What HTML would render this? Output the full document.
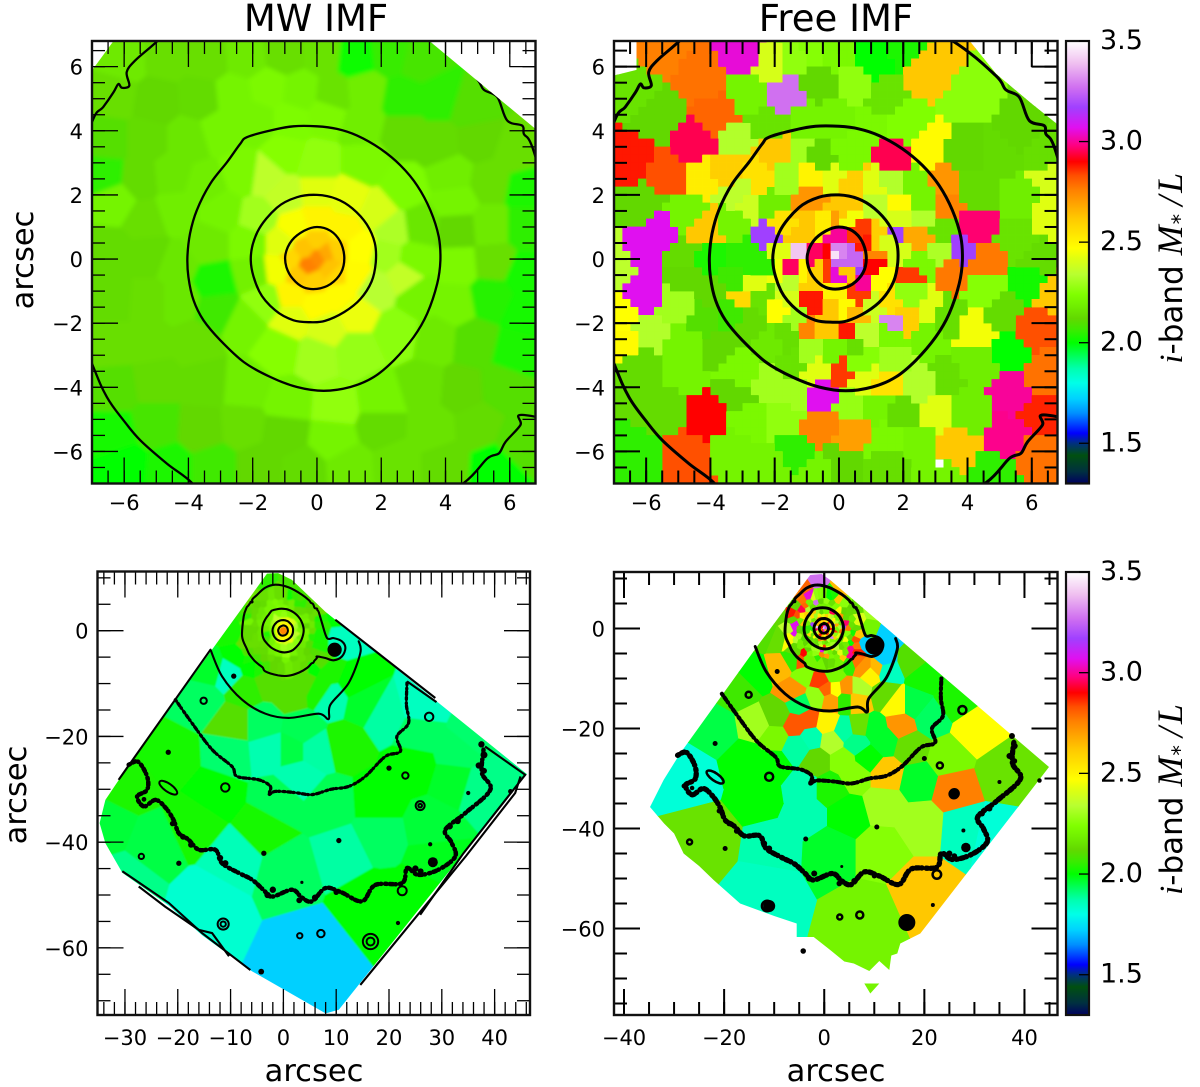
<!DOCTYPE html>
<html lang="en">
<head>
<meta charset="utf-8">
<title>MW IMF vs Free IMF stellar mass-to-light maps</title>
<style>
html,body{margin:0;padding:0;background:#fff;}
#figure{display:block;width:1200px;height:1087px;}
text{font-family:"DejaVu Sans","Liberation Sans",sans-serif;fill:#000;}
.math{font-family:"Liberation Serif","DejaVu Serif",serif;font-style:italic;}
</style>
</head>
<body>
<svg id="figure" xmlns="http://www.w3.org/2000/svg" width="1200" height="1087" viewBox="0 0 1200 1087">
  <defs id="defs"></defs>
  <rect x="0" y="0" width="1200" height="1087" fill="#fff"/>
</svg>
<script>
// ---------- colour scale ----------
const cmapValues = [1.30,1.36,1.44,1.50,1.55,1.65,1.72,1.80,1.87,1.93,2.00,2.06,2.12,2.18,2.24,2.34,2.42,2.47,2.62,2.76,2.83,2.90,2.98,3.07,3.17,3.27,3.39,3.50];
const cmapColors = ['#000060','#003040','#005010','#003080','#0000ff','#0090ff','#00d0ff','#00ffe8','#00ffb0','#00ff60','#00ff00','#38ec00','#62d800','#70ee00','#80ff00','#b8ff30','#e0ff10','#ffff00','#ffc800','#ff8000','#ff5000','#ff0000','#ff0080','#e010f0','#a040ff','#d070f0','#f0c0f0','#ffffff'];
const colorbarTicks = [1.5,2.0,2.5,3.0,3.5];
const colorbarTickLabels = ['1.5','2.0','2.5','3.0','3.5'];

// ---------- binned M*/L maps: [x arcsec, y arcsec, M*/L] ----------
const mwCentral = [
[0,0,2.74],[-.3,-.2,2.76],[.3,.2,2.68],[.4,-.3,2.63],[-.4,.3,2.63],[0,.6,2.6],[.6,.3,2.6],[.6,-.5,2.58],[-.6,-.5,2.62],[-.1,-.7,2.6],[-.8,0,2.58],
[0,1.2,2.5],[.8,.9,2.5],[1.3,.3,2.47],[1.2,-.5,2.48],[.7,-1.1,2.48],[0,-1.4,2.48],[-.8,-1.1,2.5],[-1.2,-.3,2.45],[-1.1,.5,2.42],[-.7,1,2.46],
[0,2.1,2.42],[1,1.9,2.43],[1.9,1.5,2.4],[2.4,.9,2.32],[2.2,.1,2.3],[2.7,-.5,2.36],[1.8,-.9,2.34],[1.2,-1.7,2.44],[.3,-2.2,2.4],[-.8,-1.9,2.42],[-1.6,-1.3,2.27],[-2,-.4,2.19],[-2.1,.5,2.22],[-1.8,1.3,2.3],[-1,2,2.36],[-1.6,2.6,2.35],
[0,3,2.27],[1.5,3,2.22],[2.7,2.2,2.23],[3.2,1,2.16],[3,0,2.22],[3.2,-1.2,2.2],[2.5,-2.3,2.26],[1.2,-2.9,2.28],[0,-3,2.3],[-1.2,-2.8,2.25],[-2.3,-2,2.2],[-3.2,-.7,2.03],[-3.4,.5,2.17],[-3,1.5,2.2],[-2.3,2.7,2.22],[-1,3.3,2.25],
[-6,6.2,2.17],[-4.7,6.3,2.14],[-3.4,6.2,2.14],[-2.2,6.3,2.17],[-1,6.4,2.14],[.2,6.4,2.15],[1.2,6.3,2.01],[2.3,6.4,2.06],[3.2,6.2,2.08],
[-6.3,5.1,2.14],[-5,4.9,2.12],[-3.6,5,2.13],[-2.6,5.1,2.2],[-1.5,5.3,2.22],[-.5,5.2,2.2],[.5,5.1,2.15],[1.5,5.2,2.18],[2.7,5,2.05],[3.8,5,2.05],[4.8,4.7,2.1],
[-6.5,3.7,2.1],[-5.3,3.7,2.13],[-4,3.7,2.16],[-3,4,2.2],[-1.9,4.3,2.2],[-.8,4.3,2.23],[.3,4.5,2.22],[1.4,4.2,2.18],[2.7,3.9,2.13],[3.8,3.6,2.13],[5,3.7,2.12],[6.2,3.3,2.14],
[-6.6,2.6,2.05],[-5.5,2.5,2.13],[-4.5,2.6,2.16],[-3.5,2.3,2.18],[4.2,2.6,2.18],[5.4,2.4,2.14],[6.5,2.2,2.03],
[-6.3,1.8,2.2],[-5.3,1.2,2.14],[-4.4,1.5,2.18],[4.3,1.8,2.2],[5.4,1,2.17],[6.5,1,2.05],[4.36,.9,2.12],
[-6.4,.2,2.13],[-5.2,.1,2.13],[-4.4,-.2,2.16],[4.4,-.2,2.22],[5.5,-.1,2.14],[6.5,-.5,2.02],
[-6.4,-1.2,2.13],[-5.2,-1.3,2.14],[-4.3,-1.3,2.16],[-3.1,-1.6,2.07],[4.3,-1.4,2.2],[5.4,-1.2,2.04],[6.5,-1.7,2.02],
[-6.4,-2.7,2.14],[-5.2,-2.6,2.14],[-3.8,-2.6,2.14],[3.7,-2.5,2.17],[4.9,-2.6,2.1],[6.2,-2.9,2.03],
[-6.3,-4,2.1],[-5,-3.8,2.13],[-3.5,-3.9,2.13],[-2.2,-4,2.18],[-.9,-4.5,2.2],[.6,-4.6,2.27],[2,-4.4,2.2],[3.3,-4,2.15],[4.5,-4.1,2.12],[5.8,-4,2.1],
[-6.3,-5.5,2.02],[-5,-5.2,2.08],[-3.6,-5.3,2.12],[-2.3,-5.2,2.14],[-1,-5.4,2.12],[.5,-5.6,2.2],[2,-5.2,2.13],[3.6,-5.3,2.15],[5,-5.2,2.13],[6.3,-5.7,2.1],
[-6,-6.4,2],[-4.6,-6.5,2.03],[-3.2,-6.5,2.07],[-1.8,-6.5,2.12],[-.4,-6.6,2.13],[1,-6.5,2.17],[2.5,-6.4,2.15],[4,-6.4,2.13],[5.5,-6.5,2]
];

const mwWide = [
[2,9,2.08],[-4,9,2.05],[-8,5,2.05],[-9.5,0,2.02],[-8.5,-5,2],[8,6,2.03],[10,3,2],[10.5,-1.7,1.85],[-3,-9.5,2.1],[4,-9.5,2.1],[8.5,-8,2.03],
[4.8,-60.4,1.72],[-14,-51.5,1.83],[19.3,-50.9,2],[11.7,-42,1.88],[.4,-45.2,1.93],[-4,-37.7,2.02],[-9.1,-42.7,1.86],[-24.9,-40.2,1.95],[-29.3,-29.5,2.03],[-21,-23.8,2.02],[-12.9,-30.7,2],[-16.7,-36.4,2.02],
[-15.4,-13,1.93],[-9.4,-17.5,2.1],[-10.3,-23.2,1.92],[-2.5,-22.5,1.87],[1.6,-22.5,1.95],[6,-22.5,1.88],[11.7,-21.3,2.03],[2.9,-27.6,1.87],[-4,-17.5,1.93],[3.5,-18.7,1.94],[19.3,-16.2,1.88],[14.9,-13.7,1.97],[26.2,-14.3,1.85],[25.6,-19.4,1.93],[24.4,-25.7,2],[18,-32,2],[8.6,-32.6,1.94],[-.9,-32,1.94],[33.2,-23.2,1.93],[36.3,-19.4,1.92],[32.6,-28.2,1.97],[37,-29.5,1.9],[43.3,-26.9,1.9],[28.1,-37,1.96],[18,-38.9,1.93],[28.8,-43.3,1.98],[25.6,-49.7,2],[16.8,-50.9,2],
[-10.3,-8,1.85],[1.6,-11.5,2.1],[-7.2,-11,2.05],[7,-11,2.03],[13,-9.9,2],[9.2,-12.5,1.87],[-14,-7,1.97],[-30,-47,1.9],[-33,-37,1.96]
];

const freeCentral = [
[-4.3,5.7,2.78],[-5.5,6.5,2.76],[-3.7,4.4,2.8],[-3,6.4,3.05],[-2.1,6.1,2.4],[-1.4,6.3,2.27],[-.8,6.4,2.25],[-.15,6.4,2.22],[1.1,6.3,2],[2,6.6,2.03],[2.85,5.8,2.62],[4,5.05,2.26],[-1.65,5.1,3.27],[-.6,5.45,2.12],[.45,5.4,2.27],[-2.85,5.15,2.2],[1.4,4.9,2.15],[-5.65,4.5,2.12],[-6.4,5.3,2.15],[-3.3,3.8,2.33],[-4.4,3.7,2.95],[-2.2,4.2,2.15],[-1,4.3,2.2],[0,4.4,2.2],[.9,4.3,2.22],[2.1,4.2,2.24],[3.9,3.3,2.12],[5.65,4,2.12],[6.4,3.2,2.14],[5,3.2,2.13],
[-6.5,3.05,2.88],[-5.4,2.55,2.83],[-4.3,2.55,2.52],[-3.5,2.65,2.6],[-6,1.7,2.12],[-1.9,3.35,2.62],[-1.3,3.3,2.3],[-.57,3.1,2.12],[.35,3.3,2.22],[1.8,3.1,2.95],[2.8,3.4,2.48],[3.3,2.35,2.72],[3.4,1.6,2.75],[4.3,2.15,2.13],[6.5,2.55,2.4],[6.5,1.3,2.42],[5.65,1.9,2.18],
[-5.55,1,3.07],[-6.1,.05,3.07],[-6.1,-1,3.07],[-4.8,.05,2.13],[-4.8,1.4,2.2],[-4.1,.9,2.62],[-2.85,1.7,2.38],[-3.3,1.1,2.2],[-2.2,1.7,2.18],[-2.45,2.45,2.55],[-3.15,2.1,2.35],[-1.6,2.55,2.3],[-.93,2.55,2.5],[-.25,2.45,2.42],[.47,2.35,2.6],[1.1,2.25,2.42],[1.6,2.35,2.33],[2.35,2.35,2.2],[1.9,1.7,2.48],[-.8,2,2.72],[.05,1.6,2.62],[1.2,1.8,2.35],[2.65,1.85,2.2],[2.55,1.2,2.33],[3.2,1,2.15],[4.2,1,2.97],[5.55,.6,2.15],[4.6,-.05,2.77],[3.8,.25,3.17],[3.5,-.45,2.77],[2.5,.7,2.68],[2.25,.7,2.68],[1.9,.7,3.17],[1.9,.25,2.4],[1.9,1.1,2.4],[3,.2,2.32],[2.2,-.55,2.85],[2.55,-.15,2.22],[1.45,.5,2.4],[1.15,.6,2.6],[.55,.8,2.85],[.15,1.1,2.45],[-.05,1.15,2.7],[-.55,1.1,2.52],[-.88,1.1,2.62],[-1.3,.7,2.62],[-1.75,.95,2.55],[-2.15,.7,3.17],[-1.9,.2,2.42],[-1.9,-.4,2.45],[-1.35,.2,3.4],[-1.45,-.3,2.96],[-.88,.17,2.96],[-.36,.17,2.9],[0,.73,3],[.05,.17,3.3],[-.1,0,3.45],[.37,.17,3.25],[-.05,-.15,3.25],[.5,-.05,3.25],[.88,.37,2.88],[1,.17,2.75],[1,-.15,2.9],[-.36,-.4,2.85],[0,-.55,3.05],[.57,-.4,3.17],[.73,-.77,3],[.57,-1.08,2.85],[.2,-.4,2.62],[1.14,-.66,2.47],[-.78,-.45,2.6],[-1.2,-.45,2.5],[-1.5,-.77,2.35],[-.78,-.87,2.6],[-.15,-1.08,2.5],[-.78,-1.29,2.88],[-1.92,-1.5,2.47],[-1.3,-1.7,2.3],[-1.6,-1.18,2.4],[-.25,-1.6,2.62],[.15,-1.6,2.48],[.57,-1.7,2.65],[1.09,-1.5,2.38],[1.6,-1.39,2.55],[1.6,-1.86,3.3],[2.18,-1.8,2.6],[2.8,-1.6,2.42],[2.2,-1.18,2.27],[-.93,-2.33,2.75],[-.36,-2.27,2.62],[.2,-2.17,2.88],[.83,-2.38,2.35],[1.5,-2.43,2.22],[2.75,-2.43,2.2],[4.3,-2.2,2.45],[3.27,-1.8,2.14],[5.35,-2.85,2],[6.07,-2.2,2.83],[5.04,-1.7,2.13],[5.97,-.77,2.02],[4.5,-.98,2.25],[6.6,-1,2.62],[6.2,.05,2.13],
[6.3,-3.57,2.78],[4.3,-3.26,2.18],[3.27,-3.78,2.14],[5.3,-4.2,3],[6.3,-4.82,2.87],[5.2,-5.55,2.99],[6.2,-6.2,2.78],[3.6,-5.86,2.62],[4.1,-4.7,2.18],[3.06,-4.8,2.42],[2,-4.8,2.13],[2.44,-5.75,2.2],[1.4,-5.65,2.22],[.47,-5.44,2.7],[-.57,-5.13,2.75],[.3,-4.5,2.28],[1.2,-4.6,2.2],[-.47,-4.25,3.07],[0,-3.57,2.85],[-.67,-3.47,2.42],[.78,-3.68,2.42],[1.5,-3.88,2.55],[2.54,-3.88,2.33],[1.6,-3.16,2.3],[.67,-3.16,2.25],[-.15,-2.74,2.2],[.41,-2.74,2.14],[-.88,-2.85,2.3],[-1.5,-3.26,2.15],[-2.13,-2.64,2.17],[-1.6,-2.53,2.14],[-2.13,-3.88,2.3],[-1.4,-4.3,2.3],[-3.1,-3.47,2.22],[-3.74,-2.74,2.12],[-4.9,-3.47,2.2],[-6.07,-3.36,2.13],[-4.8,-2.64,2.2],[-5.9,-2.33,2.33],[-4.2,-1.9,2.1],[-5,-1.5,2.3],[-2.85,-2,2.13],[-3.37,-1.7,2.07],[-3.84,-1,2.12],[-4.8,-.35,2.12],[-4,-.05,2.03],[-2.96,0,2.05],[-2.96,-1.2,2.57],[-2.65,-.77,2.42],[-2.34,-1.18,2.15],[-3.27,-.56,2.07],[-2.28,-.25,2.05],[-6.8,-.25,2.35],[-6.8,-1.8,2.47],[-6.8,-2.53,2.48],[-3.18,-4.3,2.12],[-4,-4.92,2.9],[-5.6,-4.6,2.13],[-2.85,-5,2.22],[-1.7,-5,2.27],[-4.8,-6.27,2.83],[-6.2,-6.17,2.05],[-3.25,-5.96,2.2],[-1.4,-5.96,2.05],[-2.2,-6.4,2.2],[.05,-6.48,2.12],[1.5,-6.48,2.14],[2.96,-6.7,2.2],[4.84,-6.7,2.05],[-.57,-6.7,2.2]
];

const freeWide = [
[29.9,-20.3,2.47],[24.5,-25.7,2.22],[25.9,-32.3,2.76],[18.5,-30.3,1.97],[35.9,-29,2.15],[27.9,-39.7,1.85],[33.9,-41,1.82],[11.9,-35,2.3],[19.2,-39,2.3],[11.2,-44.3,2.25],[4.5,-37,2],[-3.5,-37,1.87],[1.2,-44.3,1.97],[-10.1,-43.7,1.87],[19.2,-52.3,2.62],[8.5,-57,2.2],[-11.5,-51.7,1.85],[-23.5,-41.7,2.15],[-12.8,-33,2],[-26.8,-29,1.82],[-4.1,-31.7,1.87],[1.2,-31.7,2.03],[-15.5,-26.3,2],[-21.5,-20.3,1.95],[-16.8,-12.3,2.07],[-10.1,-27,2],[-1.5,-26.3,2.12],[3.9,-26.3,2.25],[8.5,-25.7,2],[12.5,-29,2.62],[5.9,-29,2.25],
[-5.8,-19.3,2.82],[-3.1,-18.3,2.82],[-13.5,-19,2.3],[-9.8,-21.7,2.22],[-2.5,-21.7,1.87],[-5.5,-23.7,1.88],[1.5,-22.3,2.33],[6.9,-19.7,2.15],[3.9,-20.3,1.88],[.5,-19,2.5],[10.2,-20.3,1.97],[15.2,-19.3,2.72],[6.5,-23,1.9],[11.9,-22.3,1.97],[17.2,-23.7,2.14],[21.2,-17.7,1.93],[25.9,-14.3,2.03],[19.9,-9.7,2.02],[17.2,-6.3,2.1],[14.5,-15,2.48],[11.9,-13,2.13],[17.9,-15,1.95],[-9.5,-17.3,2.12],[-13.5,-9,2],[-4.8,-15,1.93],
[-8.8,-7.7,2.65],[-6.1,-12.3,2.72],[-4,-9.3,2.25],[-.8,-10.3,2.85],[.5,-12.3,2.8],[2.2,-12.3,2.47],[4.5,-12,2.72],[6.9,-12,2.33],[4.2,-14.3,2.05],[1.2,-14.3,2.7],[-1.5,-13.7,2.28],[6.5,-14.3,2.62],[9.2,-9,2.5],[10.5,-7.7,2.65],[7.9,-7.7,2.72],[1.9,-9,2.22],[12.5,-8.3,1.85],[11.9,-6,1.72],[7.9,-3,1.72],[12.5,-1.7,1.72],[9.2,3.7,2.3],[8.5,0,2.2],[-11.5,-1,2.1],[-8.8,3,2.12],[-1.5,9.7,3.27],[-4,8,2.8],[3.2,7.5,2.65],[-9,-2,2.14]
];

// ---------- panel masks (data coordinates of the mapped footprint) ----------
const mwCentralMask = [[-7.5,5.2],[-6.33,6.8],[-6.3,7.5],[3.5,7.5],[3.5,6.8],[6.8,4.06],[7.5,3.5],[7.5,-7.5],[-7.5,-7.5]];
const freeCentralMask = [[-7.5,5.6],[-6.3,5.9],[-6.3,7.5],[4.1,7.5],[4.1,6.76],[4.9,5.77],[6,4.84],[6.8,4.2],[7.5,4.2],[7.5,-7.5],[-7.5,-7.5]];
const mwWideMask = [[-3.1,10.8],[-1,10.9],[1.6,9.65],[7.95,3.6],[46.1,-27.1],[10.5,-71.7],[8,-72.4],[-6,-64.4],[-15.4,-57.6],[-21.7,-52],[-30.5,-45.8],[-33.7,-40.2],[-34.8,-36.4],[-33.7,-32],[-28.6,-24.4]];
const freeWideMask = [[-2.8,10.7],[-.5,10.9],[1.2,9.7],[44.9,-27.7],[19.2,-61],[15.2,-63],[14.6,-65],[13.4,-65.4],[13,-68.3],[11,-66.5],[9,-68.5],[5.9,-67],[4,-66.6],[1.2,-64.3],[-2.1,-61.7],[-5.5,-61.7],[-5.5,-59],[-10,-57.5],[-16.8,-55],[-22.1,-50.3],[-25,-47.5],[-28.1,-45],[-30,-41],[-32,-39],[-34.8,-35.7],[-32.1,-30.3],[-28.8,-25],[-13.5,-3.7]];
const freeWideIsland = [[8,-71],[11,-71],[9.2,-73]];
const freeNoDataPixels = [[3,-6.5]];

// ---------- isophote contours (data coordinates) ----------
const contourOuter = [[-2.18,3.8],[-1.45,4.01],[-.73,4.14],[0,4.14],[.62,4.06],[1.25,3.85],[1.97,3.44],[2.6,2.92],[3.12,2.29],[3.53,1.52],[3.79,.69],[3.84,-.04],[3.74,-.77],[3.43,-1.7],[3.01,-2.43],[2.39,-3.16],[1.77,-3.68],[1.04,-3.99],[.21,-4.11],[-.62,-3.99],[-1.45,-3.68],[-2.28,-3.21],[-3.01,-2.53],[-3.53,-1.91],[-3.84,-1.29],[-4,-.56],[-4.03,.06],[-3.95,.79],[-3.74,1.52],[-3.32,2.35],[-2.8,3.02],[-2.39,3.59]];
const contourMiddle = [[0,2],[.6,1.88],[1.1,1.58],[1.55,1.08],[1.8,.5],[1.83,-.1],[1.7,-.7],[1.35,-1.25],[.85,-1.65],[.25,-1.93],[-.2,-1.97],[-.73,-1.91],[-1.3,-1.6],[-1.8,-1],[-2.06,-.05],[-1.85,.85],[-1.25,1.6],[-.62,1.93]];
const contourInner = [[0,1],[.42,.88],[.72,.55],[.85,.05],[.75,-.42],[.42,-.78],[0,-.93],[-.42,-.88],[-.75,-.62],[-.95,-.25],[-.98,.15],[-.78,.58],[-.4,.88]];
const contourKeyhole = [[8.27,-1.39],[7.32,1.45],[6.7,3.49],[6.44,3.9],[6.39,4.16],[5.92,4.32],[5.61,5.05],[5.19,5.28],[4.88,5.72],[3.53,6.81],[1,8.2],[-1.51,8.71],[-3.5,8.1],[-5.04,6.73],[-5.66,6.19],[-5.92,5.83],[-5.84,5.41],[-6.07,5.34],[-6.18,5.46],[-6.33,5.2],[-6.65,4.74],[-6.96,4.37],[-7.51,2.71],[-7.82,-1.07],[-6.98,-3.31],[-6.54,-4.3],[-6.02,-5.03],[-5.5,-5.65],[-4.67,-6.38],[-3.89,-6.98],[-3.41,-7.7],[-1,-8.45],[1.01,-8.52],[3,-7.9],[4.57,-6.98],[5.3,-6.22],[5.66,-6.06],[5.87,-5.7],[6.33,-5.18],[6.37,-4.86],[7.95,-5.17],[9.53,-5.6],[11.1,-4.86],[11.74,-3.28],[11.1,-2.02],[9.53,-1.39]];
const contourArcA = [[-13.8,-3.6],[-11.6,-8.64],[-7.82,-13.06],[-3.41,-15.7],[1,-16.5],[6.69,-15.7],[8.58,-16.7],[8.9,-14],[12.37,-9.9],[14.57,-4.23],[14.26,-2]];
const contourArcB = [[-20.44,-13.06],[-17.3,-17.48],[-13.5,-22.5],[-9.72,-25.7],[-8.77,-27.57],[-4.67,-28.2],[-2.46,-29.46],[-2.78,-31],[-1.51,-30.4],[2,-30.6],[5.43,-31],[9,-30],[12.37,-29.46],[15.52,-27.57],[19.3,-23.79],[22.15,-22.84],[21.5,-20],[23.7,-17.5],[23.3,-14],[23.4,-9.9]];
const contourArcC = [[-29.3,-25.36],[-27.5,-24.8],[-25.8,-27.57],[-25.8,-30.1],[-27.7,-31.36],[-26.4,-33.25],[-24.2,-32],[-22.3,-33.5],[-20.8,-35.8],[-19.8,-38.3],[-18,-39.5],[-16,-41.45],[-12.87,-41.45],[-11.6,-44],[-8.5,-45.8],[-5.93,-47.1],[-3.8,-49],[-2.15,-50.3],[1.64,-49],[3.5,-50.5],[5.43,-51.2],[7.95,-48.7],[11,-49.5],[14.9,-51.2],[17.4,-48.1],[22.46,-47.76],[23.4,-44.9],[25.6,-46.2],[29.4,-45.2],[32.56,-42.7],[31.8,-40],[30.66,-37.67],[34.45,-34.5],[39.18,-30.1],[37.6,-26.9],[37.9,-22.5]];
const fieldEdgeLines = [
  [[9.84,2.08],[28.77,-12.74]],
  [[23.4,-9.6],[29,-13.5]],
  [[38.2,-21.9],[45.8,-27.26],[34.1,-42.1],[25.9,-53.75]],
  [[44.9,-27.57],[43.9,-30.7],[34.6,-42.6],[14.57,-67]],
  [[-13.8,-3.6],[-31.2,-28.2]],
  [[-30.5,-45.5],[-21.7,-51.5],[-15.4,-57.2],[-6.25,-64.2]],
  [[-27.4,-48.4],[-22.4,-52.2],[-16,-56.6],[-13.5,-57.2],[-10.3,-61.6]]
];

// ---------- compact sources: [x, y, radius] in arcsec ----------
const ringSources = [[-15.1,-13.25,.6],[-11,-29.65,.8],[-26.9,-42.7,.5],[27.6,-16.3,.8],[23.1,-27.4,.6],[25.9,-33.1,.85],[-11.4,-55.5,1.05],[16.5,-58.8,1.45],[7.1,-57.3,.7],[3.1,-57.7,.5],[22.5,-49.2,.85]];
const innerRingSources = [[25.9,-33.1,.35],[-11.4,-55.5,.5],[16.5,-58.8,.75]];
const dotSources = [[-9.4,-8.6,.5],[-21.8,-23,.5],[20,-26,.5],[-3.7,-42.1,.5],[10.5,-39.7,.5],[-19.8,-44,.5],[28.3,-43.8,.95],[21.7,-55.3,.4],[-26.4,-31.9,.45],[35,-30.7,.4],[43,-30.4,.45],[3.5,-47.6,.3],[27.8,-40.4,.4],[9.7,-3.6,1.35],[-4.2,-64.5,.55]];
const noisyBlobs = [[37.5,-21.5,.6],[38,-23.5,.65],[37,-25.5,.6],[38,-26.5,.55],[33,-36,.6],[31.5,-37,.6],[-21,-36.5,.5],[-19,-39,.55],[-17.5,-40.5,.55],[-12,-43,.6],[-11,-44,.6],[-3,-50,.6],[-2,-49,.6],[3,-51,.55],[6,-50.5,.6],[10,-49.5,.5],[25,-45,.6],[26,-45.5,.55]];
const elongatedSources = [[-21.8,-29.7,2,.75,35]];
const freeExtraDots = [[-11,-55.5,1.2],[16.5,-58.8,1.6],[26,-33,1.1],[-28,-31.5,.5],[9.9,-3.5,1.7]];

// ---------- axes ticks and labels ----------
const centralTickLabels = [-6,-4,-2,0,2,4,6];
const wideXLabelsLeft = [-30,-20,-10,0,10,20,30,40];
const wideXLabelsRight = [-40,-20,0,20,40];
const wideYLabels = [-60,-40,-20,0];

// ---------- helpers ----------
const svg = document.getElementById('figure');
const defs = document.getElementById('defs');
const NS = 'http://www.w3.org/2000/svg';

function make(tag, attrs, parent){
  const el = document.createElementNS(NS, tag);
  for (const k in attrs) el.setAttribute(k, attrs[k]);
  (parent || svg).appendChild(el);
  return el;
}
function hexToRgb(h){ return [1,3,5].map(i => parseInt(h.slice(i,i+2),16)); }
function colorFor(v){
  if (v <= cmapValues[0]) return cmapColors[0];
  for (let i = 1; i < cmapValues.length; i++){
    if (v <= cmapValues[i]){
      const t = (v - cmapValues[i-1]) / (cmapValues[i] - cmapValues[i-1]);
      const a = hexToRgb(cmapColors[i-1]), b = hexToRgb(cmapColors[i]);
      return 'rgb(' + a.map((c,k) => Math.round(c + (b[k]-c)*t)).join(',') + ')';
    }
  }
  return cmapColors[cmapColors.length-1];
}
function linearAxis(d0, d1, p0, p1){
  const f = v => p0 + (v - d0) * (p1 - p0) / (d1 - d0);
  return f;
}
function stepTicks(start, stop, step){
  const out = [];
  for (let i = 0; start + i*step <= stop + 1e-9; i++) out.push(+(start + i*step).toFixed(4));
  return out;
}
function clipPolygon(poly, ax, ay, bx, by){
  const mx = (ax+bx)/2, my = (ay+by)/2, nx = bx-ax, ny = by-ay;
  const side = p => (p[0]-mx)*nx + (p[1]-my)*ny;
  const out = [];
  for (let i = 0; i < poly.length; i++){
    const p = poly[i], q = poly[(i+1)%poly.length];
    const sp = side(p), sq = side(q);
    if (sp <= 0) out.push(p);
    if ((sp < 0 && sq > 0) || (sp > 0 && sq < 0)){
      const t = sp/(sp-sq);
      out.push([p[0]+(q[0]-p[0])*t, p[1]+(q[1]-p[1])*t]);
    }
  }
  return out;
}
function drawVoronoi(cells, panel, parent, bounds){
  cells.forEach(cell => {
    let poly = [[bounds[0],bounds[2]],[bounds[1],bounds[2]],[bounds[1],bounds[3]],[bounds[0],bounds[3]]];
    for (const other of cells){
      if (other === cell || (other[0] === cell[0] && other[1] === cell[1])) continue;
      poly = clipPolygon(poly, cell[0], cell[1], other[0], other[1]);
      if (!poly.length) return;
    }
    const color = colorFor(cell[2]);
    const el = make('polygon', {
      points: poly.map(p => panel.sx(p[0]).toFixed(1) + ',' + panel.sy(p[1]).toFixed(1)).join(' '),
      fill: color, stroke: color, 'stroke-width': .6
    }, parent);
    
    
  });
}
function drawPixelBins(cells, panel, parent, pixel){
  const paths = cells.map(() => []);
  for (let gx = -30; gx < 30; gx++){
    for (let gy = -30; gy < 30; gy++){
      const cx = (gx+.5)*pixel, cy = (gy+.5)*pixel;
      let best = 0, bd = Infinity;
      cells.forEach((c,i) => {
        const d = (c[0]-cx)*(c[0]-cx) + (c[1]-cy)*(c[1]-cy);
        if (d < bd){ bd = d; best = i; }
      });
      const px = panel.sx(gx*pixel), py = panel.sy((gy+1)*pixel);
      const w = panel.sx((gx+1)*pixel) - px, h = panel.sy(gy*pixel) - py;
      paths[best].push('M' + px.toFixed(2) + ' ' + py.toFixed(2) + 'h' + w.toFixed(2) + 'v' + h.toFixed(2) + 'h' + (-w).toFixed(2) + 'z');
    }
  }
  cells.forEach((c,i) => {
    if (!paths[i].length) return;
    const color = colorFor(c[2]);
    const el = make('path', {d: paths[i].join(''), fill: color, stroke: color, 'stroke-width': .4}, parent);
    
    
  });
}
function polyPoints(pts, panel){
  return pts.map(p => panel.sx(p[0]).toFixed(1) + ',' + panel.sy(p[1]).toFixed(1)).join(' ');
}
function smoothPath(pts, panel, closed){
  const P = pts.map(p => [panel.sx(p[0]), panel.sy(p[1])]);
  const n = P.length;
  const at = i => closed ? P[(i+n)%n] : P[Math.max(0,Math.min(n-1,i))];
  let d = 'M' + P[0][0].toFixed(1) + ' ' + P[0][1].toFixed(1);
  const last = closed ? n : n-1;
  for (let i = 0; i < last; i++){
    const p0 = at(i-1), p1 = at(i), p2 = at(i+1), p3 = at(i+2);
    const c1 = [p1[0]+(p2[0]-p0[0])/6, p1[1]+(p2[1]-p0[1])/6];
    const c2 = [p2[0]-(p3[0]-p1[0])/6, p2[1]-(p3[1]-p1[1])/6];
    d += 'C' + c1[0].toFixed(1) + ' ' + c1[1].toFixed(1) + ' ' + c2[0].toFixed(1) + ' ' + c2[1].toFixed(1) + ' ' + p2[0].toFixed(1) + ' ' + p2[1].toFixed(1);
  }
  return d + (closed ? 'Z' : '');
}

// ---------- panel construction ----------
function makePanel(id, box, xd, yd){
  const panel = {id, box,
    sx: linearAxis(xd[0], xd[1], box[0], box[1]),
    sy: linearAxis(yd[0], yd[1], box[3], box[2])};
  const clip = make('clipPath', {id: id + '-box'}, defs);
  make('rect', {x: box[0], y: box[2], width: box[1]-box[0], height: box[3]-box[2]}, clip);
  panel.group = make('g', {}, svg);
  
  
  panel.inner = make('g', {'clip-path': 'url(#' + id + '-box)'}, panel.group);
  
  
  return panel;
}
function addMask(panel, polygons){
  const clip = make('clipPath', {id: panel.id + '-mask'}, defs);
  polygons.forEach(pg => make('polygon', {points: polyPoints(pg, panel)}, clip));
}
function drawContours(panel, parent, list, width){
  const g = make('g', {fill: 'none', stroke: '#000', 'stroke-width': width, 'stroke-linejoin': 'round', 'stroke-linecap': 'round'}, parent);
  
  
  list.forEach(item => {
    const d = smoothPath(item.pts, panel, item.closed);
    const el = make('path', {d}, g);
    
    
    if (item.noisy){
      const speckle = make('path', {d, 'stroke-width': width + item.noisy, 'stroke-dasharray': '1.5 3 3 2.5 0.5 4'}, g);
      
      
    }
  });
}
function drawSources(panel, width, extraDots){
  const g = make('g', {}, panel.inner);
  
  
  const ppu = Math.abs(panel.sx(1) - panel.sx(0));
  ringSources.concat(innerRingSources).forEach(s => {
    const el = make('circle', {cx: panel.sx(s[0]), cy: panel.sy(s[1]), r: s[2]*ppu, fill: 'none', stroke: '#000', 'stroke-width': width}, g);
    
    
  });
  elongatedSources.forEach(s => {
    const cx = panel.sx(s[0]), cy = panel.sy(s[1]);
    const el = make('ellipse', {cx, cy, rx: s[2]*ppu, ry: s[3]*ppu, fill: 'none', stroke: '#000', 'stroke-width': width, transform: 'rotate(' + s[4] + ' ' + cx + ' ' + cy + ')'}, g);
    
    
  });
  dotSources.concat(noisyBlobs, extraDots).forEach(s => {
    const el = make('circle', {cx: panel.sx(s[0]), cy: panel.sy(s[1]), r: s[2]*ppu, fill: '#000'}, g);
    
    
  });
}
function drawFrame(panel, xMajor, xMinor, yMajor, yMinor, tickWidth){
  const [l, r, t, b] = panel.box;
  const g = make('g', {stroke: '#000', 'stroke-width': tickWidth, fill: 'none'}, panel.group);
  
  
  const majorLen = 26, minorLen = 13;
  const line = (x1,y1,x2,y2,name) => {
    const el = make('line', {x1, y1, x2, y2}, g);
    
    
  };
  xMajor.forEach(v => { const x = panel.sx(v); line(x,b,x,b-majorLen,'x-major-tick'); line(x,t,x,t+majorLen,'x-major-tick-top'); });
  xMinor.forEach(v => { const x = panel.sx(v); line(x,b,x,b-minorLen,'x-minor-tick'); line(x,t,x,t+minorLen,'x-minor-tick-top'); });
  yMajor.forEach(v => { const y = panel.sy(v); line(l,y,l+majorLen,y,'y-major-tick'); line(r,y,r-majorLen,y,'y-major-tick-right'); });
  yMinor.forEach(v => { const y = panel.sy(v); line(l,y,l+minorLen,y,'y-minor-tick'); line(r,y,r-minorLen,y,'y-minor-tick-right'); });
  const frame = make('rect', {x: l, y: t, width: r-l, height: b-t, fill: 'none', stroke: '#111', 'stroke-width': 2.4}, panel.group);
  
  
}
function fmt(v){ return v < 0 ? '\u2212' + Math.abs(v) : String(v); }
function drawTickLabels(panel, xLabels, yLabels, xBase){
  const g = make('g', {'font-size': 21}, panel.group);
  
  
  xLabels.forEach(v => {
    const el = make('text', {x: panel.sx(v), y: xBase, 'text-anchor': 'middle'}, g);
    el.textContent = fmt(v);
    
    
  });
  yLabels.forEach(v => {
    const el = make('text', {x: panel.box[0]-9, y: panel.sy(v)+8, 'text-anchor': 'end'}, g);
    el.textContent = fmt(v);
    
    
  });
}

const blurA = make('filter', {id: 'blur-central', x: '-5%', y: '-5%', width: '110%', height: '110%'}, defs);
make('feGaussianBlur', {stdDeviation: 2.2}, blurA);
const blurB = make('filter', {id: 'blur-wide', x: '-5%', y: '-5%', width: '110%', height: '110%'}, defs);
make('feGaussianBlur', {stdDeviation: .8}, blurB);

const centralMajor = stepTicks(-6, 6, 2);
const centralMinor = stepTicks(-7, 6.8, .5);

// --- top-left: MW IMF central ---
const p1 = makePanel('mw-central', [92,535.5,41,483.5], [-7,6.8], [-7,6.8]);
addMask(p1, [mwCentralMask]);
const p1Clip = make('g', {'clip-path': 'url(#mw-central-mask)'}, p1.inner);


const p1Cells = make('g', {filter: 'url(#blur-central)'}, p1Clip);


drawVoronoi(mwCentral, p1, p1Cells, [-8.5,8.5,-8.5,8.5]);
const centralContours = [{pts: contourOuter, closed: true, name: 'contour-r4'},{pts: contourMiddle, closed: true, name: 'contour-r2'},{pts: contourInner, closed: true, name: 'contour-r1'},{pts: contourKeyhole, closed: true, name: 'contour-r8'}];
drawContours(p1, p1Clip, centralContours, 2.3);
drawFrame(p1, centralMajor, centralMinor, centralMajor, centralMinor, 1.3);
drawTickLabels(p1, centralTickLabels, centralTickLabels, 510);

// --- top-right: Free IMF central ---
const p2 = makePanel('free-central', [614,1057.5,41,483.5], [-7,6.8], [-7,6.8]);
addMask(p2, [freeCentralMask]);
const p2Clip = make('g', {'clip-path': 'url(#free-central-mask)'}, p2.inner);


const p2Cells = make('g', {'shape-rendering': 'crispEdges'}, p2Clip);


drawPixelBins(freeCentral, p2, p2Cells, .25);
freeNoDataPixels.forEach(px => {
  const el = make('rect', {x: p2.sx(px[0]), y: p2.sy(px[1]+.25), width: p2.sx(.25)-p2.sx(0), height: p2.sy(0)-p2.sy(.25), fill: '#fff'}, p2Cells);
  
  
});
drawContours(p2, p2Clip, centralContours, 3);
drawFrame(p2, centralMajor, centralMinor, centralMajor, centralMinor, 2);
drawTickLabels(p2, centralTickLabels, centralTickLabels, 510);

const wideContours = [
  {pts: contourOuter, closed: true, name: 'contour-r4'},
  {pts: contourMiddle, closed: true, name: 'contour-r2'},
  {pts: contourInner, closed: true, name: 'contour-r1'},
  {pts: contourKeyhole, closed: true, name: 'contour-keyhole'},
  {pts: contourArcA, closed: false, name: 'contour-arc-inner'},
  {pts: contourArcB, closed: false, name: 'contour-arc-middle', noisy: 1.2},
  {pts: contourArcC, closed: false, name: 'contour-arc-outer', noisy: 2.4}
];

// --- bottom-left: MW IMF wide ---
const p3 = makePanel('mw-wide', [97.5,530,571.5,1015], [-35.2,46.7], [-72.7,11.2]);
addMask(p3, [mwWideMask]);
const p3Clip = make('g', {'clip-path': 'url(#mw-wide-mask)'}, p3.inner);


const p3Cells = make('g', {filter: 'url(#blur-wide)'}, p3Clip);


drawVoronoi(mwWide.concat(mwCentral), p3, p3Cells, [-40,50,-78,14]);
drawContours(p3, p3.inner, wideContours, 2.1);
const p3Edges = make('g', {fill: 'none', stroke: '#000', 'stroke-width': 2.1}, p3.inner);


fieldEdgeLines.forEach(pts => {
  const el = make('polyline', {points: polyPoints(pts, p3)}, p3Edges);
  
  
});
drawSources(p3, 2, []);
const p3Center = make('circle', {cx: p3.sx(0), cy: p3.sy(0), r: 3.4, fill: colorFor(2.75)}, p3.inner);


drawFrame(p3, wideXLabelsLeft, stepTicks(-34,46,2), wideYLabels, stepTicks(-70,10,5), 1.3);
drawTickLabels(p3, wideXLabelsLeft, wideYLabels, 1045);

// --- bottom-right: Free IMF wide ---
const p4 = makePanel('free-wide', [614,1057.5,572,1015], [-42,46.6], [-77.3,11.3]);
addMask(p4, [freeWideMask, freeWideIsland]);
const p4Clip = make('g', {'clip-path': 'url(#free-wide-mask)'}, p4.inner);


drawVoronoi(freeWide.concat(freeCentral), p4, p4Clip, [-45,50,-80,14]);
drawContours(p4, p4.inner, wideContours, 2.9);
drawSources(p4, 2.5, freeExtraDots);
drawFrame(p4, [-40,-20,0,20,40], stepTicks(-40,45,5), wideYLabels, stepTicks(-75,10,5), 2);
drawTickLabels(p4, wideXLabelsRight, wideYLabels, 1045);

// ---------- colour bars ----------
const gradient = make('linearGradient', {id: 'ml-gradient', x1: 0, y1: 1, x2: 0, y2: 0}, defs);
cmapValues.forEach((v,i) => {
  make('stop', {offset: ((v - cmapValues[0]) / (cmapValues[cmapValues.length-1] - cmapValues[0])).toFixed(4), 'stop-color': cmapColors[i]}, gradient);
});
function drawColorbar(top, bottom, name){
  const g = make('g', {}, svg);
  
  
  const left = 1066, right = 1089;
  const sy = linearAxis(1.3, 3.5, bottom, top);
  const ramp = make('rect', {x: left, y: top, width: right-left, height: bottom-top, fill: 'url(#ml-gradient)', stroke: '#111', 'stroke-width': 2.2}, g);
  
  
  colorbarTicks.forEach((v,i) => {
    const tick = make('line', {x1: right, x2: right-10, y1: sy(v), y2: sy(v), stroke: '#000', 'stroke-width': 1.3}, g);
    
    
    const label = make('text', {x: 1100, y: sy(v)+8, 'font-size': 27}, g);
    label.textContent = colorbarTickLabels[i];
    
    
  });
  const cy = (top + bottom)/2 + 6;
  const title = make('text', {transform: 'translate(1182,' + cy + ') rotate(-90)', 'text-anchor': 'middle', 'font-size': 31}, g);
  
  
  const parts = [['i','math',0,0,33],['-band ','',0,0,31],['M','math',0,0,36],['*','',5,1,21],['/','math',-5,8,36],['L','math',0,3,36]];
  parts.forEach(p => {
    const ts = make('tspan', {'font-size': p[4]}, title);
    if (p[1]) ts.setAttribute('class', p[1]);
    if (p[2]) ts.setAttribute('dy', p[2]);
    if (p[3]) ts.setAttribute('dx', p[3]);
    ts.textContent = p[0];
  });
}
drawColorbar(41, 483.5, 'colorbar-top');
drawColorbar(572, 1015, 'colorbar-bottom');

// ---------- titles ----------
const staticLabels = [
  ['MW IMF', 316, 31, 0, 37, 'title-mw-imf'],
  ['Free IMF', 836, 31, 0, 37, 'title-free-imf'],
  ['arcsec', 33, 260, -90, 30.5, 'y-axis-title-top'],
  ['arcsec', 26, 795, -90, 30.5, 'y-axis-title-bottom'],
  ['arcsec', 314, 1081, 0, 30.5, 'x-axis-title-left'],
  ['arcsec', 836, 1081, 0, 30.5, 'x-axis-title-right']
];
staticLabels.forEach(item => {
  const el = make('text', {transform: 'translate(' + item[1] + ',' + item[2] + ') rotate(' + item[3] + ')', 'text-anchor': 'middle', 'font-size': item[4]});
  el.textContent = item[0];
  
  
});
</script>
</body>
</html>
